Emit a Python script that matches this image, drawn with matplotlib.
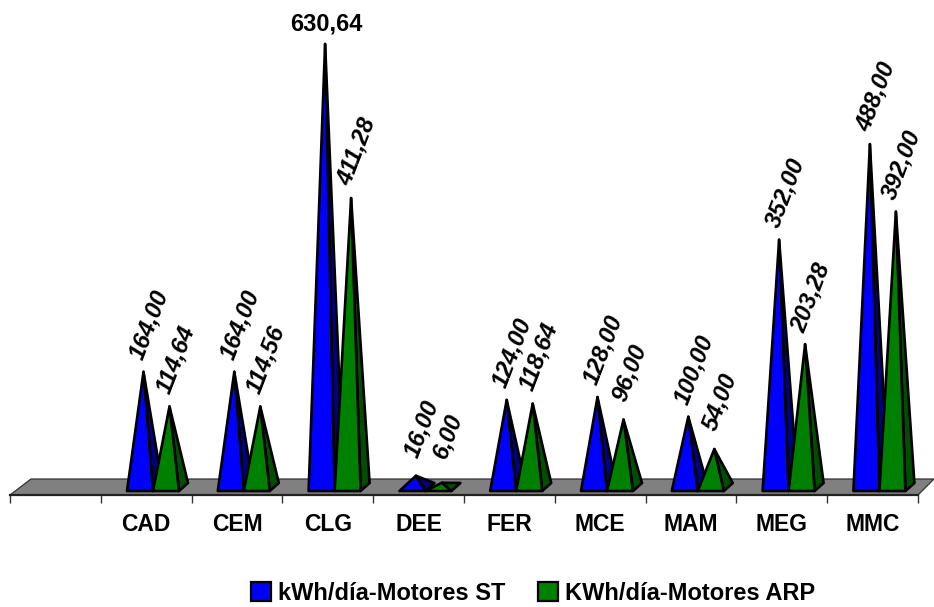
import matplotlib
matplotlib.use("Agg")
import matplotlib.pyplot as plt
from matplotlib.patches import Polygon, Patch

plt.rcParams['font.family'] = ['Liberation Sans', 'DejaVu Sans']

categories = ["", "CAD", "CEM", "CLG", "DEE", "FER", "MCE", "MAM", "MEG", "MMC"]
motores_st = [None, 164.00, 164.00, 630.64, 16.00, 124.00, 128.00, 100.00, 352.00, 488.00]
motores_arp = [None, 114.64, 114.56, 411.28, 6.00, 118.64, 96.00, 54.00, 203.28, 392.00]
series_names = ["kWh/día-Motores ST", "KWh/día-Motores ARP"]

W, H = 934, 607
PX_X = 90.8          # pixels per category
PX_Y = 0.7025        # pixels per value unit
LEFT, RIGHT, FRONT = 10, 918, 495

fig = plt.figure(figsize=(W / 100, H / 100), dpi=100)
ax = fig.add_axes([LEFT / W, (H - FRONT) / H, (RIGHT - LEFT) / W, FRONT / H])
ax.set_xlim(0, 10)
ax.set_ylim(-8 / PX_Y, 487 / PX_Y)
ax.patch.set_visible(False)

for s in ("top", "left", "right"):
    ax.spines[s].set_visible(False)
ax.spines["bottom"].set_linewidth(1.6)
ax.spines["bottom"].set_color("#222222")
ax.spines["bottom"].set_zorder(6)
ax.set_yticks([])
ax.set_xticks(range(11))
ax.set_xticklabels([])
ax.tick_params(axis="x", which="major", length=5.8, width=1.0, color="#333333")
ax.set_xticks([i + 0.5 for i in range(10)], minor=True)
ax.set_xticklabels(categories, minor=True, fontsize=16.5, fontweight="bold")
ax.tick_params(axis="x", which="minor", length=0, pad=13)

# floor
dx = 1 / PX_X
dy = 1 / PX_Y
floor_top = 8 * dy
floor = [(0, -8 * dy), (10, -8 * dy), (10 + 16 * dx, floor_top), (21 * dx, floor_top)]
ax.add_patch(Polygon(floor, closed=True, fc="#808080", ec="#333333", lw=0.9,
                     clip_on=False, zorder=1))

BASE_W = 26 * dx
DEPTH_X = 9 * dx
BASE_F = -4 * dy
BASE_B = 4 * dy
JUNCTION = 153 - LEFT  # pixel offset of first blue/green junction


def pyramid(x0, value, front, side, z):
    x1 = x0 + BASE_W
    apex = (x0 + BASE_W / 2 + DEPTH_X / 2 - 1 * dx, value)
    kw = dict(closed=True, ec="black", lw=1.9, joinstyle="round",
              clip_on=False, zorder=z)
    ax.add_patch(Polygon([(x1, BASE_F), (x1 + DEPTH_X, BASE_B), apex], fc=side, **kw))
    ax.add_patch(Polygon([(x0, BASE_F), (x1, BASE_F), apex], fc=front, **kw))
    return apex


label_kw = dict(textcoords="offset pixels", ha="center", va="center",
                fontsize=17, fontweight="bold", annotation_clip=False, zorder=10)

for i, cat in enumerate(categories):
    if not cat:
        continue
    xj = (JUNCTION + (i - 1) * PX_X) * dx
    a1 = pyramid(xj - BASE_W, motores_st[i], "#0000FF", "#000080", 3)
    a2 = pyramid(xj, motores_arp[i], "#008000", "#004F00", 4)
    for apex, v in ((a1, motores_st[i]), (a2, motores_arp[i])):
        txt = f"{v:.2f}".replace(".", ",")
        if v > 600:
            ax.annotate(txt, apex, xytext=(1, 20), **label_kw)
        else:
            ax.annotate(txt, apex, xytext=(6, 47), rotation=69, style="italic",
                        rotation_mode="anchor", **label_kw)

handles = [Patch(fc="#0000FF", ec="black", lw=1.6), Patch(fc="#008000", ec="black", lw=1.6)]
fig.legend(handles, series_names, loc="center", bbox_to_anchor=(533 / W, 1 - 593 / H),
           ncol=2, frameon=False, prop=dict(size=17, weight="bold"),
           handlelength=0.85, handleheight=0.85, handletextpad=0.3, columnspacing=1.4)

fig.savefig("out.png", dpi=100)
